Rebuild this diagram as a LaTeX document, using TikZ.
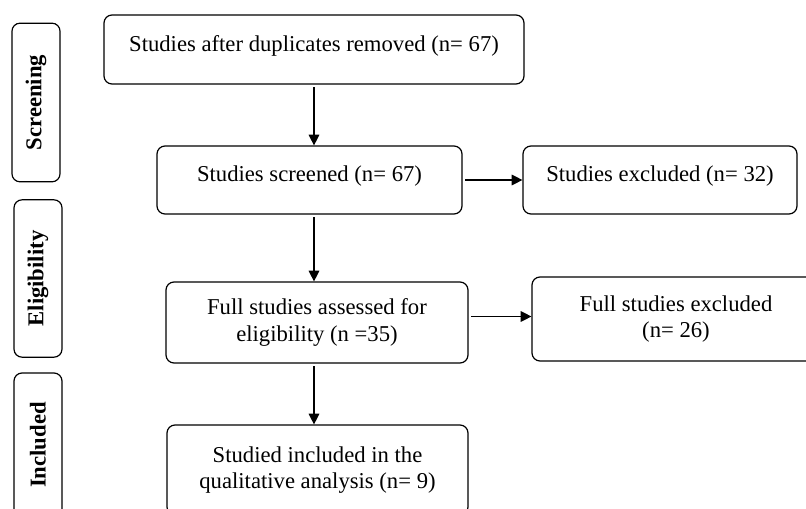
\documentclass[tikz,border=0pt]{standalone}
\usepackage{fontspec}
\setmainfont{Liberation Serif}
\usepackage{tikz}
\usetikzlibrary{arrows.meta, positioning}

\begin{document}
\begin{tikzpicture}[
        x=0.75pt, y=-0.75pt,
        font=\fontsize{17}{20}\selectfont,
        stage/.style={rectangle, draw, line width=0.9pt, rounded corners=6pt, rotate=90, font=\fontsize{17}{20}\selectfont\bfseries, minimum height=36pt, text centered},
        box/.style={rectangle, draw, line width=0.9pt, rounded corners=6pt, align=center},
        onebox/.style={box, text height=12pt, text depth=9pt},
        arrow/.style={line width=0.9pt, -{Triangle[length=8pt, width=8pt]}, shorten <=2pt}
    ]
    \useasboundingbox (0,0) rectangle (806,509);
    \clip (0,0) rectangle (806,509);

    % phase labels on the left
    \node (screening) [stage, minimum width=119pt] at (36,102.5) {Screening};
    \node (eligibility) [stage, minimum width=118pt] at (38,278.5) {Eligibility};
    \node (included) [stage, minimum width=108pt] at (38,445) {Included};

    % main flow
    \node (dup) [onebox, minimum width=315pt, minimum height=51.75pt] at (314,49.5) {Studies after duplicates removed (n= 67)};
    \node (screened) [onebox, minimum width=228.75pt, minimum height=51pt] at (309.5,180) {Studies screened (n= 67)};
    \node (excl1) [onebox, minimum width=205.5pt, minimum height=51pt] at (660,180) {Studies excluded (n= 32)};
    \node (assessed) [box, minimum width=226.5pt, minimum height=60.75pt] at (317,322.5) {Full studies assessed for\\eligibility (n =35)};
    \node (excl2) [box, minimum width=216pt, minimum height=63pt] at (676,319) {Full studies excluded\\(n= 26)};
    \node (final) [box, minimum width=225.75pt, minimum height=67.5pt] at (317.5,470) {Studied included in the\\qualitative analysis (n= 9)};

    \draw [arrow] (dup.south) -- (dup.south |- screened.north);
    \draw [arrow] (dup.south |- screened.south) -- (dup.south |- assessed.north);
    \draw [arrow] (dup.south |- assessed.south) -- (dup.south |- final.north);

    \draw [arrow] (screened.east) -- (excl1.west);
    \draw [arrow] ([yshift=4.5pt]assessed.east) -- ([yshift=4.5pt]assessed.east -| excl2.west);

\end{tikzpicture}
\end{document}
